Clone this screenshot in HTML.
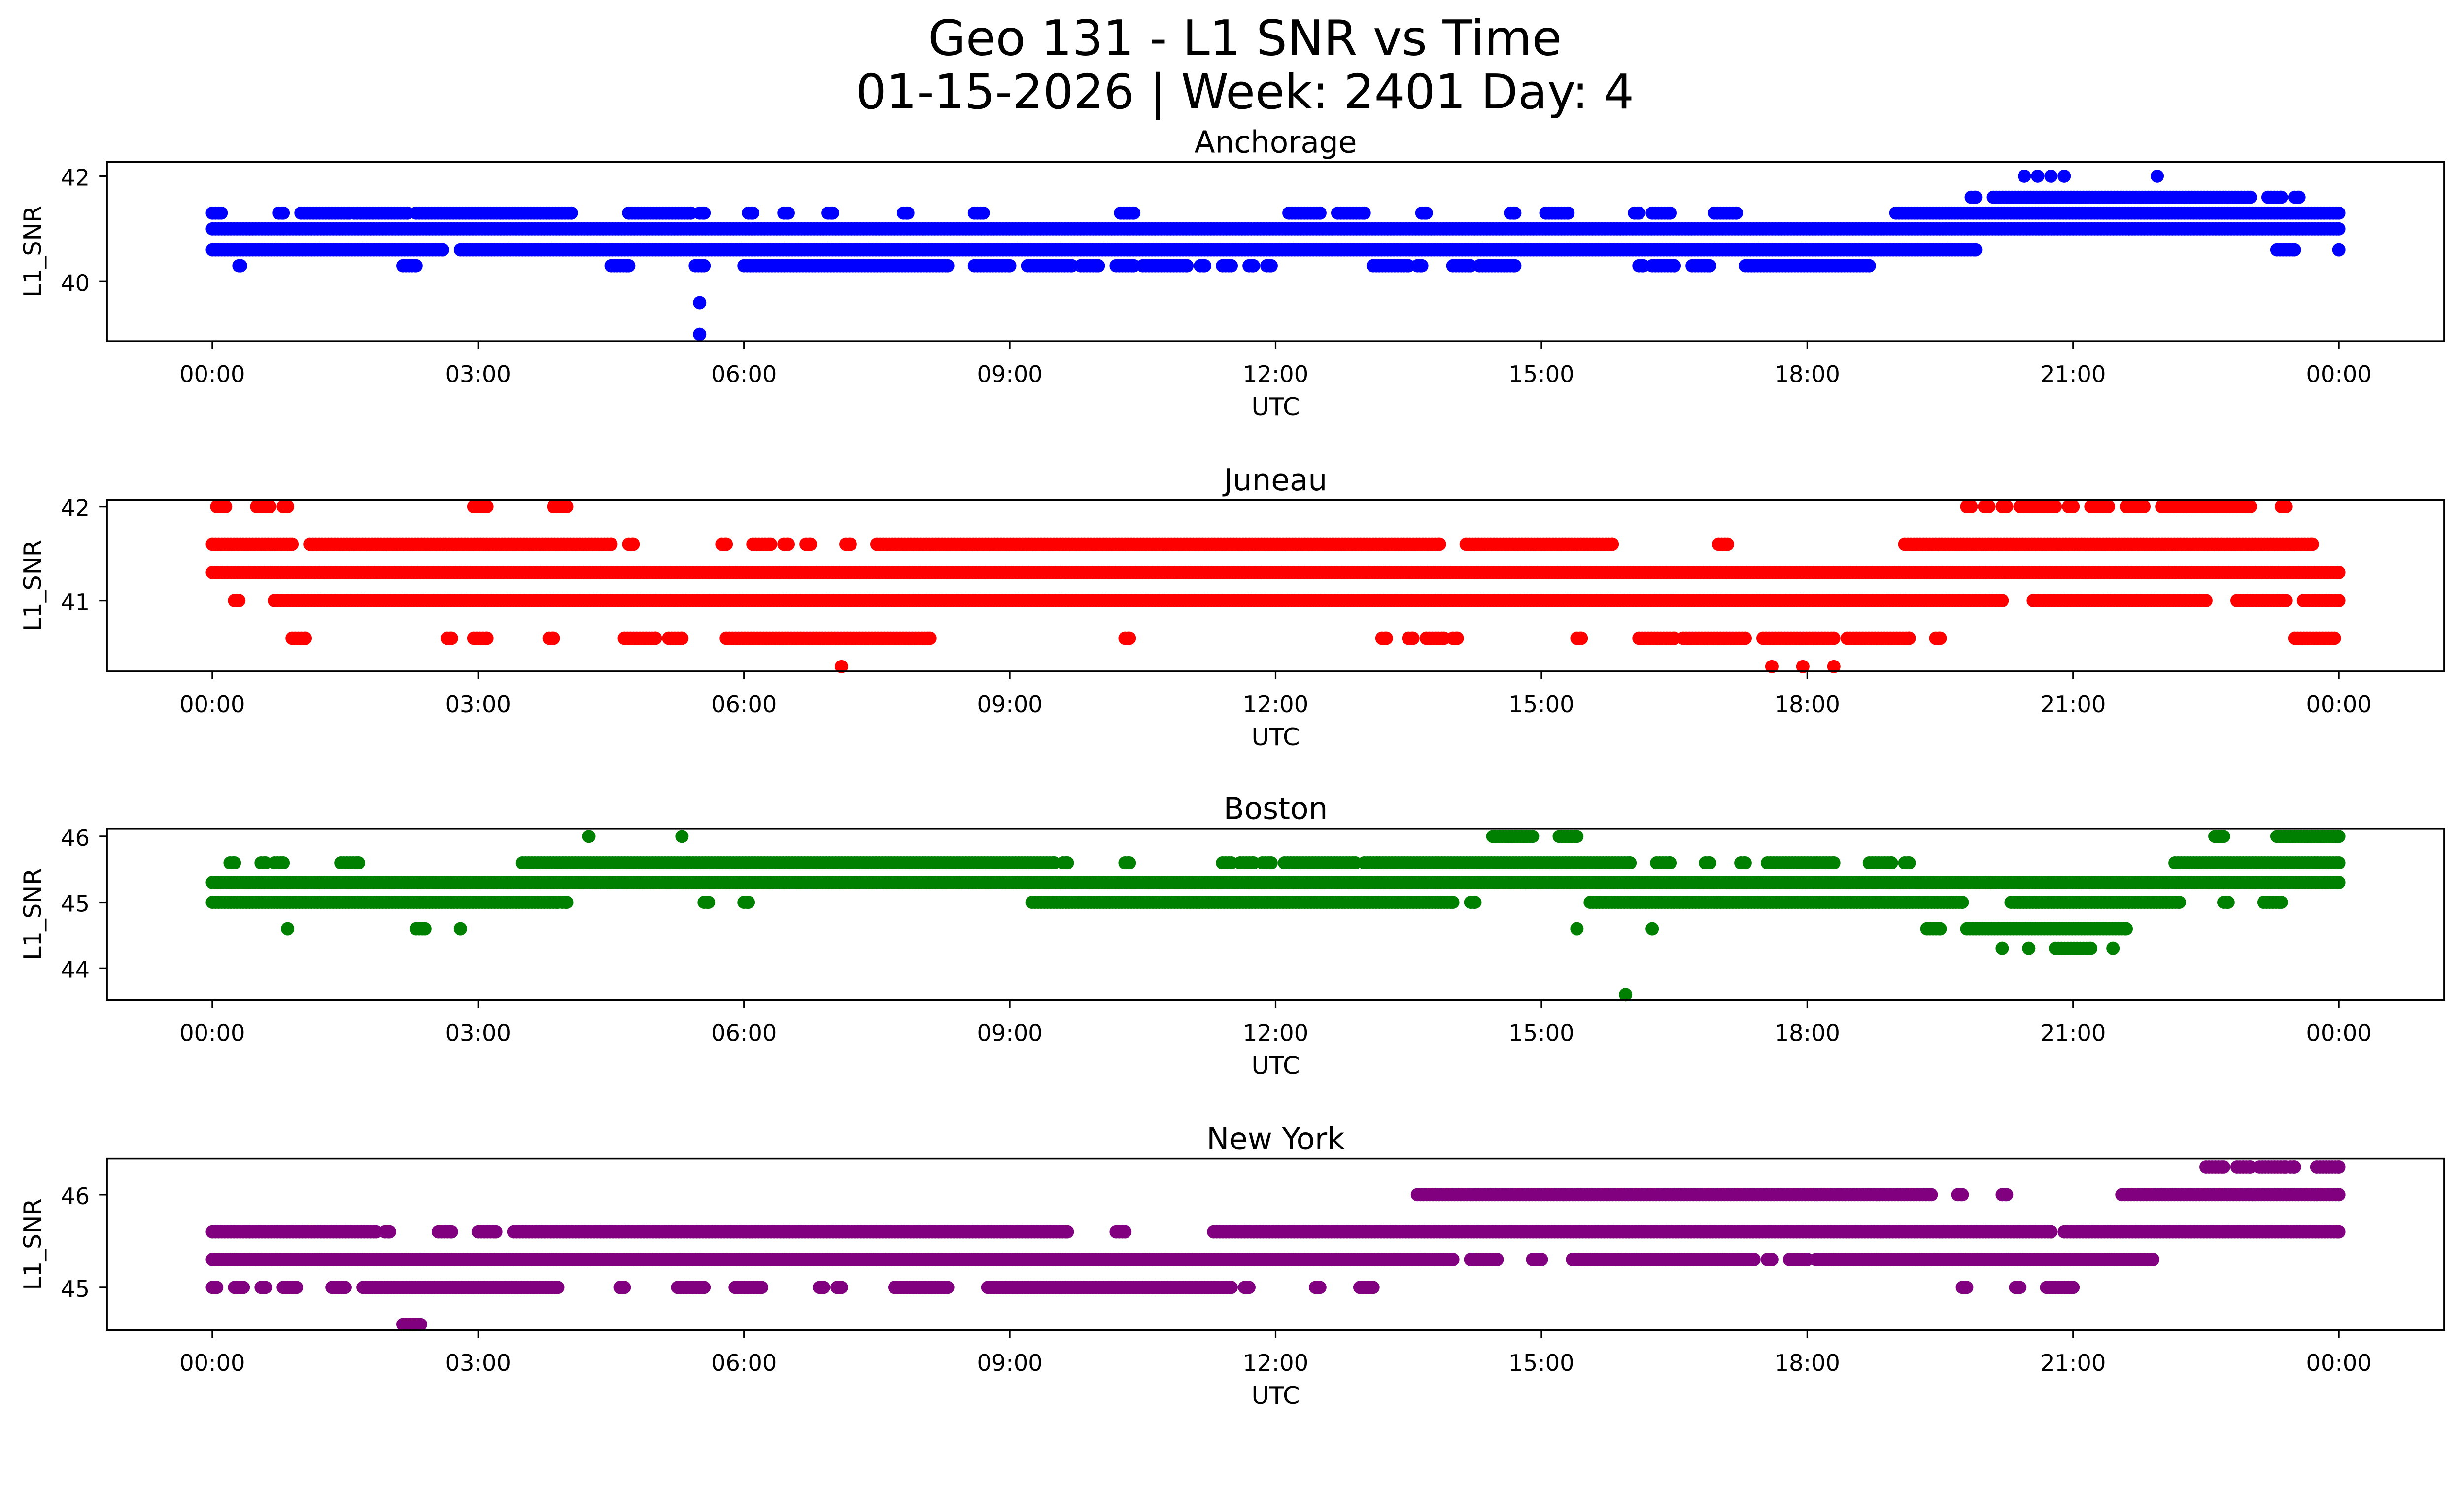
<!DOCTYPE html>
<html><head><meta charset="utf-8"><style>
html,body{margin:0;padding:0;background:#fff;overflow:hidden;width:100%;height:100%;}
svg{display:block;position:absolute;left:0;top:0;width:100vw;height:calc(100vw * 3033 / 5225);font-family:"DejaVu Sans","Liberation Sans",sans-serif;}
</style></head><body>
<svg id="fig" viewBox="0 0 1567.5 910" xmlns="http://www.w3.org/2000/svg">
<rect width="1567.5" height="910" fill="#fff"/>
<text x="792" y="35" font-size="31" text-anchor="middle">Geo 131 - L1 SNR vs Time</text>
<text x="792" y="69" font-size="30.5" text-anchor="middle">01-15-2026 | Week: 2401 Day: 4</text>
</svg>
<script>
// Series data: for each station, levels (SNR values) and time ranges in hours [start,end]
const stations = ["Anchorage","Juneau","Boston","New York"];
const colors = ["#0000ff","#ff0000","#008000","#800080"];
const xTickLabels = ["00:00","03:00","06:00","09:00","12:00","15:00","18:00","21:00","00:00"];
const xTickHours = [0,3,6,9,12,15,18,21,24];

const anchLevels = [41.0,40.6,41.3,41.6,42.0,40.3,39.6,39.0];
const anchRanges = [
 [[0,24]],
 [[0,2.6],[2.8,19.9],[23.3,23.5],[24,24]],
 [[0,0.1],[0.75,0.8],[1.0,1.55],[1.6,2.2],[2.3,4.05],[4.7,5.4],[5.5,5.55],[6.05,6.1],[6.45,6.5],[6.95,7.0],[7.8,7.85],[8.6,8.7],[10.25,10.4],[12.15,12.5],[12.7,13.0],[13.65,13.7],[14.65,14.7],[15.05,15.3],[16.05,16.1],[16.25,16.45],[16.95,17.2],[19.0,24]],
 [[19.85,19.9],[20.1,23.0],[23.2,23.35],[23.5,23.55]],
 [[20.45,20.45],[20.6,20.6],[20.75,20.75],[20.9,20.9],[21.95,21.95]],
 [[0.3,0.32],[2.15,2.3],[4.5,4.7],[5.45,5.55],[6.0,8.3],[8.6,9.0],[9.2,9.7],[9.8,10.0],[10.2,10.4],[10.5,11.0],[11.15,11.2],[11.4,11.5],[11.7,11.75],[11.9,11.95],[13.1,13.5],[13.6,13.65],[14.0,14.2],[14.3,14.7],[16.1,16.15],[16.25,16.5],[16.7,16.9],[17.3,18.7]],
 [[5.5,5.5]],
 [[5.5,5.5]]
];
const junLevels = [41.3,41.0,41.6,42.0,40.6,40.3];
const junRanges = [
 [[0,24]],
 [[0.25,0.3],[0.7,20.2],[20.55,22.5],[22.85,23.4],[23.6,24]],
 [[0,0.9],[1.1,4.5],[4.7,4.75],[5.75,5.8],[6.1,6.3],[6.45,6.5],[6.7,6.75],[7.15,7.2],[7.5,13.85],[14.15,15.8],[17.0,17.1],[19.1,23.7]],
 [[0.05,0.15],[0.5,0.65],[0.8,0.85],[2.95,3.1],[3.85,4.0],[19.8,19.85],[20.0,20.05],[20.2,20.25],[20.4,20.8],[20.95,21.0],[21.2,21.4],[21.6,21.8],[22.0,23.0],[23.35,23.4]],
 [[0.9,1.05],[2.65,2.7],[2.95,3.1],[3.8,3.85],[4.65,5.0],[5.15,5.3],[5.8,8.1],[10.3,10.35],[13.2,13.25],[13.5,13.55],[13.7,13.9],[14.0,14.05],[15.4,15.45],[16.1,16.5],[16.6,17.3],[17.5,18.3],[18.45,19.15],[19.45,19.5],[23.5,23.95]],
 [[7.1,7.1],[17.6,17.6],[17.95,17.95],[18.3,18.3]]
];
const bosLevels = [45.3,45.0,45.6,46.0,44.6,44.3,43.6];
const bosRanges = [
 [[0,24]],
 [[0,3.9],[3.95,4.0],[5.55,5.6],[6.0,6.05],[9.25,14.0],[14.2,14.25],[15.55,19.75],[20.3,22.2],[22.7,22.75],[23.15,23.35]],
 [[0.2,0.25],[0.55,0.6],[0.7,0.8],[1.45,1.65],[3.5,9.5],[9.6,9.65],[10.3,10.35],[11.4,11.5],[11.6,11.75],[11.85,11.95],[12.1,12.9],[13.0,16.0],[16.3,16.45],[16.85,16.9],[17.25,17.3],[17.55,18.3],[18.7,18.95],[19.1,19.15],[22.15,24]],
 [[4.25,4.25],[5.3,5.3],[14.45,14.9],[15.2,15.4],[22.6,22.7],[23.3,24]],
 [[0.85,0.85],[2.3,2.4],[2.8,2.8],[15.4,15.4],[16.25,16.25],[19.35,19.5],[19.8,21.6]],
 [[20.2,20.2],[20.5,20.5],[20.8,21.2],[21.45,21.45]],
 [[15.95,15.95]]
];
const nyLevels = [45.3,45.6,46.0,46.3,45.0,44.6];
const nyRanges = [
 [[0,14.0],[14.2,14.5],[14.9,15.0],[15.35,17.4],[17.55,17.6],[17.8,18.0],[18.1,21.9]],
 [[0,1.85],[1.95,2.0],[2.55,2.7],[3.0,3.2],[3.4,9.65],[10.2,10.3],[11.3,20.75],[20.9,24]],
 [[13.6,19.4],[19.7,19.75],[20.2,20.25],[21.55,24]],
 [[22.5,22.7],[22.85,23.0],[23.1,23.4],[23.45,23.5],[23.75,24]],
 [[0,0.05],[0.25,0.35],[0.55,0.6],[0.8,0.95],[1.35,1.5],[1.7,3.9],[4.6,4.65],[5.25,5.55],[5.9,6.2],[6.85,6.9],[7.05,7.1],[7.7,8.3],[8.75,11.5],[11.65,11.7],[12.45,12.5],[12.95,13.1],[19.75,19.8],[20.35,20.4],[20.7,21.0]],
 [[2.15,2.35]]
];
const anchTicks=[40,42], junTicks=[41,42], bosTicks=[44,45,46], nyTicks=[45,46];

const levelSets=[anchLevels,junLevels,bosLevels,nyLevels];
const rangeSets=[anchRanges,junRanges,bosRanges,nyRanges];
const tickSets=[anchTicks,junTicks,bosTicks,nyTicks];
const ylims=[[38.87,42.27],[40.25,42.07],[43.52,46.12],[44.54,46.39]];
const panels=[[103,217],[318,427],[527,636],[737,846]];
const NS="http://www.w3.org/2000/svg";
const svg=document.getElementById('fig');
const L=68,R=1555;
function xScale(h){return 135+h*(1488-135)/24;}
function mk(t,a,p){const e=document.createElementNS(NS,t);for(const k in a)e.setAttribute(k,a[k]);(p||svg).appendChild(e);return e;}
stations.forEach((name,i)=>{
  const [top,bot]=panels[i];const [y0,y1]=ylims[i];
  const yScale=v=>bot-(v-y0)/(y1-y0)*(bot-top);
  const g=mk('g',{});
  
  
  const t=mk('text',{x:(L+R)/2,y:top-6,'font-size':19.2,'text-anchor':'middle'},g);t.textContent=name;
  
  
  const pts=mk('g',{fill:colors[i]},g);
  
  
  levelSets[i].forEach((lv,j)=>{
    rangeSets[i][j].forEach(([a,b])=>{
      for(let h=a;h<=b+1e-9;h+=0.035){
        mk('circle',{cx:xScale(h).toFixed(2),cy:yScale(lv).toFixed(2),r:4.2},pts);
      }
      mk('circle',{cx:xScale(b).toFixed(2),cy:yScale(lv).toFixed(2),r:4.2},pts);
    });
  });
  const fr=mk('rect',{x:L,y:top,width:R-L,height:bot-top,fill:'none',stroke:'#000','stroke-width':1.1},g);
  
  
  xTickHours.forEach((h,k)=>{
    const x=xScale(h);
    mk('line',{x1:x,x2:x,y1:bot,y2:bot+5,stroke:'#000','stroke-width':1},g);
    const tl=mk('text',{x:x,y:bot+26,'font-size':14.5,'text-anchor':'middle'},g);tl.textContent=xTickLabels[k];
    
    
  });
  tickSets[i].forEach(v=>{
    const y=yScale(v);
    mk('line',{x1:L-5,x2:L,y1:y,y2:y,stroke:'#000','stroke-width':1},g);
    const tl=mk('text',{x:L-11,y:y+6,'font-size':14.5,'text-anchor':'end'},g);tl.textContent=v;
    
    
  });
  const xl=mk('text',{x:(L+R)/2,y:bot+47,'font-size':15.5,'text-anchor':'middle'},g);xl.textContent='UTC';
  
  
  const yl=mk('text',{x:0,y:0,'font-size':15.5,'text-anchor':'middle',transform:`translate(26,${(top+bot)/2}) rotate(-90)`},g);yl.textContent='L1_SNR';
  
  
});
</script>
</body></html>
